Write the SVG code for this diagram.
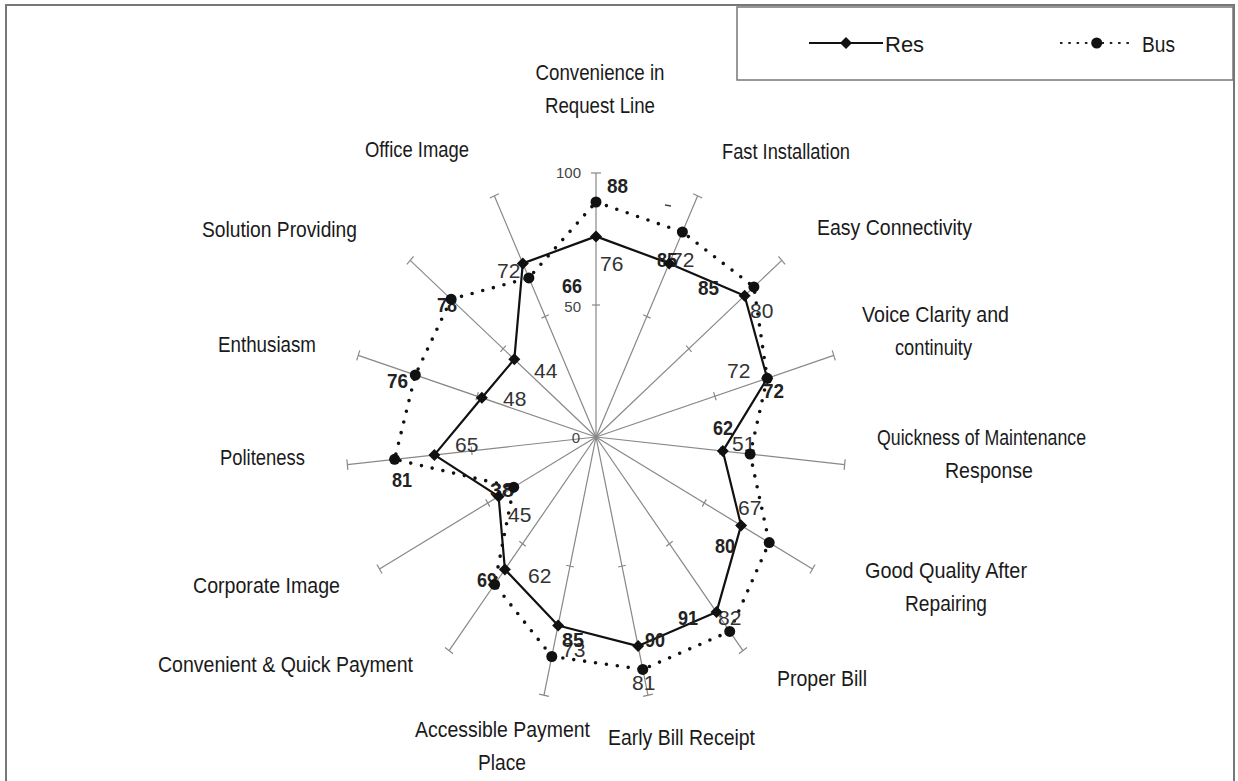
<svg xmlns="http://www.w3.org/2000/svg" xmlns:xlink="http://www.w3.org/1999/xlink" width="1238" height="781" viewBox="0 0 1238 781">
<style>
  .frame{fill:none;stroke:#777;stroke-width:2}
  .ax{stroke:#888;stroke-width:1.2;fill:none}
  .res{fill:none;stroke:#111;stroke-width:2.2;stroke-linejoin:round}
  .bus{fill:none;stroke:#111;stroke-width:3.6;stroke-dasharray:0 11;stroke-linecap:round}
  .cat{font-family:"Liberation Sans",Arial,sans-serif;font-size:22px;fill:#1a1a1a}
  .rv{font-family:"Liberation Sans",Arial,sans-serif;font-size:21px;fill:#333}
  .bv{font-family:"Liberation Sans",Arial,sans-serif;font-size:21px;font-weight:bold;fill:#222}
  .tk{font-family:"Liberation Sans",Arial,sans-serif;font-size:15px;fill:#444;text-anchor:end}
  .leg{font-family:"Liberation Sans",Arial,sans-serif;font-size:22px;fill:#1a1a1a}
  .mk{fill:#111}
</style>
<defs>
  <g id="axis">
    <line x1="0" y1="0" x2="0" y2="-250" vector-effect="non-scaling-stroke"/>
    <line x1="-4" y1="-125" x2="4" y2="-125" vector-effect="non-scaling-stroke"/>
    <line x1="-5" y1="-250" x2="5" y2="-250" vector-effect="non-scaling-stroke"/>
  </g>
  <path id="dia" d="M0,-6 L6,0 L0,6 L-6,0Z"/>
  <circle id="dot" r="5.5"/>
</defs>
<rect width="1238" height="781" fill="#fff"/>
<g id="frame"><path class="frame" d="M6,790 V5 H1234 V790"/></g>

<g id="legend">
  <rect x="737" y="7" width="496" height="73" fill="#fff" stroke="#777" stroke-width="1.5"/>
  <line x1="809" y1="43" x2="883" y2="43" stroke="#111" stroke-width="2"/>
  <use xlink:href="#dia" href="#dia" x="846" y="43" class="mk"/>
  <text class="leg" x="885" y="52">Res</text>
  <line x1="1060" y1="43" x2="1132" y2="43" stroke="#222" stroke-width="2" stroke-dasharray="2.5 5.8"/>
  <use xlink:href="#dot" href="#dot" x="1096.7" y="43" class="mk"/>
  <text class="leg" x="1142" y="52" textLength="33" lengthAdjust="spacingAndGlyphs">Bus</text>
</g>

<g id="axes" class="ax" transform="translate(596,437) scale(1,1.056)">
  <use href="#axis" transform="rotate(0)"/>
  <use href="#axis" transform="rotate(24)"/>
  <use href="#axis" transform="rotate(48)"/>
  <use href="#axis" transform="rotate(72)"/>
  <use href="#axis" transform="rotate(96)"/>
  <use href="#axis" transform="rotate(120)"/>
  <use href="#axis" transform="rotate(144)"/>
  <use href="#axis" transform="rotate(168)"/>
  <use href="#axis" transform="rotate(192)"/>
  <use href="#axis" transform="rotate(216)"/>
  <use href="#axis" transform="rotate(240)"/>
  <use href="#axis" transform="rotate(264)"/>
  <use href="#axis" transform="rotate(288)"/>
  <use href="#axis" transform="rotate(312)"/>
  <use href="#axis" transform="rotate(336)"/>
</g>
<g id="scale-labels">
  <text class="tk" x="581" y="178">100</text>
  <text class="tk" x="581" y="312">50</text>
  <text class="tk" x="580" y="443">0</text>
</g>

<g id="connectors">
  <polygon id="bus-line" class="bus" points="596,202 682.4,232 753.9,286.9 767.2,378.3 750.1,454.1 769.2,542.6 729.7,631.4 642.8,669.4 551.8,656.5 494.6,584.4 513.7,487.2 394.6,459.3 415.3,375 451.1,299.2 528.9,277.9"/>
  <polygon id="res-line" class="res" points="596,236.4 669.2,263.4 744.6,295.7 767.2,378.3 722.8,451.1 741.1,525.4 716.5,612.1 638.1,646.1 558.1,625.5 504.9,569.4 498.6,496.4 434.4,454.9 481.9,397.8 514.3,359.3 522.8,263.4"/>
  <line x1="665" y1="205" x2="671" y2="206" stroke="#444" stroke-width="1.5"/>
</g>

<g id="res-values">
  <text class="rv" x="600" y="271">76</text>
  <text class="rv" x="671" y="267">72</text>
  <text class="rv" x="750" y="318">80</text>
  <text class="rv" x="727" y="378">72</text>
  <text class="rv" x="732" y="451">51</text>
  <text class="rv" x="738" y="515">67</text>
  <text class="rv" x="718" y="625">82</text>
  <text class="rv" x="632" y="690">81</text>
  <text class="rv" x="562" y="657">73</text>
  <text class="rv" x="528" y="583">62</text>
  <text class="rv" x="508" y="522">45</text>
  <text class="rv" x="455" y="452">65</text>
  <text class="rv" x="503" y="406">48</text>
  <text class="rv" x="534" y="378">44</text>
  <text class="rv" x="497" y="278">72</text>
</g>
<g id="bus-values">
  <text class="bv" x="607" y="193" textLength="21" lengthAdjust="spacingAndGlyphs">88</text>
  <text class="bv" x="657" y="267" textLength="20" lengthAdjust="spacingAndGlyphs">85</text>
  <text class="bv" x="698" y="295" textLength="21" lengthAdjust="spacingAndGlyphs">85</text>
  <text class="bv" x="763" y="398" textLength="21" lengthAdjust="spacingAndGlyphs">72</text>
  <text class="bv" x="713" y="435" textLength="20" lengthAdjust="spacingAndGlyphs">62</text>
  <text class="bv" x="715" y="553" textLength="20" lengthAdjust="spacingAndGlyphs">80</text>
  <text class="bv" x="678" y="625" textLength="20" lengthAdjust="spacingAndGlyphs">91</text>
  <text class="bv" x="645" y="647" textLength="20" lengthAdjust="spacingAndGlyphs">90</text>
  <text class="bv" x="562" y="647" textLength="22" lengthAdjust="spacingAndGlyphs">85</text>
  <text class="bv" x="477" y="587" textLength="20" lengthAdjust="spacingAndGlyphs">69</text>
  <text class="bv" x="490" y="497" textLength="24" lengthAdjust="spacingAndGlyphs">38</text>
  <text class="bv" x="392" y="487" textLength="20" lengthAdjust="spacingAndGlyphs">81</text>
  <text class="bv" x="387" y="388" textLength="21" lengthAdjust="spacingAndGlyphs">76</text>
  <text class="bv" x="437" y="312" textLength="20" lengthAdjust="spacingAndGlyphs">78</text>
  <text class="bv" x="562" y="293" textLength="20" lengthAdjust="spacingAndGlyphs">66</text>
</g>

<g id="markers-bus" class="mk">
  <use href="#dot" x="596" y="202"/>
  <use href="#dot" x="682.4" y="232"/>
  <use href="#dot" x="753.9" y="286.9"/>
  <use href="#dot" x="767.2" y="378.3"/>
  <use href="#dot" x="750.1" y="454.1"/>
  <use href="#dot" x="769.2" y="542.6"/>
  <use href="#dot" x="729.7" y="631.4"/>
  <use href="#dot" x="642.8" y="669.4"/>
  <use href="#dot" x="551.8" y="656.5"/>
  <use href="#dot" x="494.6" y="584.4"/>
  <use href="#dot" x="513.7" y="487.2"/>
  <use href="#dot" x="394.6" y="459.3"/>
  <use href="#dot" x="415.3" y="375"/>
  <use href="#dot" x="451.1" y="299.2"/>
  <use href="#dot" x="528.9" y="277.9"/>
</g>
<g id="markers-res" class="mk">
  <use href="#dia" x="596" y="236.4"/>
  <use href="#dia" x="669.2" y="263.4"/>
  <use href="#dia" x="744.6" y="295.7"/>
  <use href="#dia" x="767.2" y="378.3"/>
  <use href="#dia" x="722.8" y="451.1"/>
  <use href="#dia" x="741.1" y="525.4"/>
  <use href="#dia" x="716.5" y="612.1"/>
  <use href="#dia" x="638.1" y="646.1"/>
  <use href="#dia" x="558.1" y="625.5"/>
  <use href="#dia" x="504.9" y="569.4"/>
  <use href="#dia" x="498.6" y="496.4"/>
  <use href="#dia" x="434.4" y="454.9"/>
  <use href="#dia" x="481.9" y="397.8"/>
  <use href="#dia" x="514.3" y="359.3"/>
  <use href="#dia" x="522.8" y="263.4"/>
</g>

<g id="categories">
  <g id="cat-convenience-request"><text class="cat" x="600" y="80" text-anchor="middle" textLength="129" lengthAdjust="spacingAndGlyphs">Convenience in</text><text class="cat" x="600" y="113" text-anchor="middle" textLength="110" lengthAdjust="spacingAndGlyphs">Request Line</text></g>
  <g id="cat-fast-installation"><text class="cat" x="722" y="159" textLength="128" lengthAdjust="spacingAndGlyphs">Fast Installation</text></g>
  <g id="cat-easy-connectivity"><text class="cat" x="817" y="235" textLength="155" lengthAdjust="spacingAndGlyphs">Easy Connectivity</text></g>
  <g id="cat-voice-clarity"><text class="cat" x="862" y="322" textLength="147" lengthAdjust="spacingAndGlyphs">Voice Clarity and</text><text class="cat" x="895" y="355" textLength="77" lengthAdjust="spacingAndGlyphs">continuity</text></g>
  <g id="cat-quickness"><text class="cat" x="877" y="445" textLength="209" lengthAdjust="spacingAndGlyphs">Quickness of Maintenance</text><text class="cat" x="945" y="478" textLength="88" lengthAdjust="spacingAndGlyphs">Response</text></g>
  <g id="cat-good-quality"><text class="cat" x="946" y="578" text-anchor="middle" textLength="162" lengthAdjust="spacingAndGlyphs">Good Quality After</text><text class="cat" x="946" y="611" text-anchor="middle" textLength="82" lengthAdjust="spacingAndGlyphs">Repairing</text></g>
  <g id="cat-proper-bill"><text class="cat" x="777" y="686" textLength="90" lengthAdjust="spacingAndGlyphs">Proper Bill</text></g>
  <g id="cat-early-bill"><text class="cat" x="608" y="745" textLength="147" lengthAdjust="spacingAndGlyphs">Early Bill Receipt</text></g>
  <g id="cat-accessible-payment"><text class="cat" x="415" y="737" textLength="175" lengthAdjust="spacingAndGlyphs">Accessible Payment</text><text class="cat" x="478" y="770" textLength="48" lengthAdjust="spacingAndGlyphs">Place</text></g>
  <g id="cat-convenient-payment"><text class="cat" x="158" y="672" textLength="255" lengthAdjust="spacingAndGlyphs">Convenient &amp; Quick Payment</text></g>
  <g id="cat-corporate-image"><text class="cat" x="193" y="593" textLength="147" lengthAdjust="spacingAndGlyphs">Corporate Image</text></g>
  <g id="cat-politeness"><text class="cat" x="220" y="465" textLength="85" lengthAdjust="spacingAndGlyphs">Politeness</text></g>
  <g id="cat-enthusiasm"><text class="cat" x="218" y="352" textLength="98" lengthAdjust="spacingAndGlyphs">Enthusiasm</text></g>
  <g id="cat-solution-providing"><text class="cat" x="202" y="237" textLength="155" lengthAdjust="spacingAndGlyphs">Solution Providing</text></g>
  <g id="cat-office-image"><text class="cat" x="365" y="157" textLength="104" lengthAdjust="spacingAndGlyphs">Office Image</text></g>
</g>
</svg>
